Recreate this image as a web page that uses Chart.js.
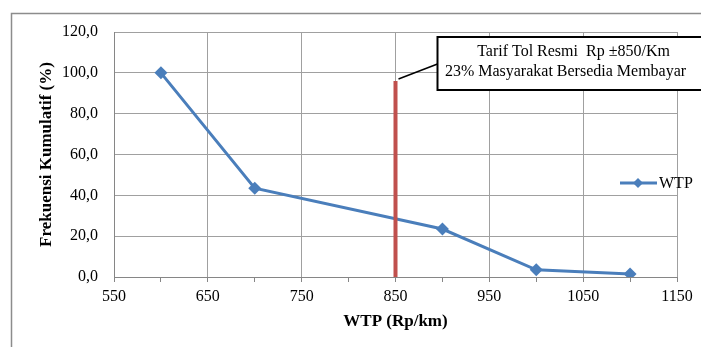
<!DOCTYPE html>
<html>
<head>
<meta charset="utf-8">
<script src="https://cdn.jsdelivr.net/npm/chart.js@4/dist/chart.umd.min.js"></script>
<style>
  html, body { margin: 0; padding: 0; background: #fff; }
  canvas { display: block; }
</style>
</head>
<body>
<canvas id="wtpChart" width="701" height="347"></canvas>
<script>
// WTP values (Rp/km) and cumulative frequency (%)
const wtpValues = [600, 700, 900, 1000, 1100];
const cumulativeFreq = [100, 43.5, 23.5, 3.5, 1.5];

// official toll tariff marker
const tariffX = [850, 850];
const tariffY = [0, 96];

const xTickMin = 550, xTickMax = 1150, xStep = 50;
const yTickMin = 0, yTickMax = 120, yStep = 20;

const noteLines = ['Tarif Tol Resmi  Rp \u00B1850/Km', '23% Masyarakat Bersedia Membayar'];

const FONT = 'Liberation Serif';
const BLUE = '#4A7EBB';
const RED = '#C0504D';
const GRID = '#A0A0A0';
const AXIS = '#868686';

const framePlugin = {
    id: 'frame',
    beforeDraw(chart) {
        const ctx = chart.ctx;
        ctx.save();
        ctx.strokeStyle = '#8C8C8C';
        ctx.lineWidth = 1.5;
        ctx.strokeRect(11.5, 13.5, 760, 400);
        ctx.restore();
    }
};

const notePlugin = {
    id: 'note',
    afterDatasetsDraw(chart) {
        const ctx = chart.ctx;
        const xs = chart.scales.x, ys = chart.scales.y;
        const px = xs.getPixelForValue(tariffX[1]);
        const py = ys.getPixelForValue(tariffY[1]);
        const bx = px + 42, by = py - 44, bw = 300, bh = 53;
        ctx.save();
        // connector
        ctx.strokeStyle = '#000';
        ctx.lineWidth = 1.5;
        ctx.beginPath();
        ctx.moveTo(px + 3, py - 2);
        ctx.lineTo(bx, py - 17);
        ctx.stroke();
        // box
        ctx.fillStyle = '#fff';
        ctx.fillRect(bx, by, bw, bh);
        ctx.lineWidth = 2;
        ctx.strokeRect(bx, by, bw, bh);
        // text
        ctx.fillStyle = '#000';
        ctx.font = '16px "' + FONT + '"';
        ctx.textAlign = 'center';
        ctx.textBaseline = 'middle';
        ctx.fillText(noteLines[0], bx + 136, by + 15);
        ctx.fillText(noteLines[1], bx + 128, by + 35);
        ctx.restore();

        // legend
        const lx = chart.chartArea.right - 57;
        const ly = ys.getPixelForValue(yTickMin) - 94;
        ctx.save();
        ctx.strokeStyle = BLUE;
        ctx.lineWidth = 3;
        ctx.beginPath();
        ctx.moveTo(lx, ly);
        ctx.lineTo(lx + 37, ly);
        ctx.stroke();
        ctx.fillStyle = BLUE;
        ctx.beginPath();
        ctx.moveTo(lx + 18, ly - 5);
        ctx.lineTo(lx + 23, ly);
        ctx.lineTo(lx + 18, ly + 5);
        ctx.lineTo(lx + 13, ly);
        ctx.closePath();
        ctx.fill();
        ctx.fillStyle = '#000';
        ctx.font = '16px "' + FONT + '"';
        ctx.textAlign = 'left';
        ctx.textBaseline = 'middle';
        ctx.fillText('WTP', lx + 39, ly + 1);
        ctx.restore();
    }
};

new Chart(document.getElementById('wtpChart'), {
    type: 'line',
    data: {
        datasets: [
            {
                label: 'Tarif',
                data: tariffX.map((x, i) => ({ x, y: tariffY[i] })),
                borderColor: RED,
                borderWidth: 4,
                pointRadius: 0,
                borderCapStyle: 'butt'
            },
            {
                label: 'WTP',
                data: wtpValues.map((x, i) => ({ x, y: cumulativeFreq[i] })),
                borderColor: BLUE,
                backgroundColor: BLUE,
                borderWidth: 3,
                pointStyle: 'rectRot',
                pointRadius: 6.5,
                pointBorderWidth: 0,
                tension: 0
            }
        ]
    },
    options: {
        responsive: false,
        animation: false,
        layout: { padding: { left: 0, top: 32, right: 24, bottom: 0 } },
        plugins: {
            legend: { display: false },
            tooltip: { enabled: false }
        },
        scales: {
            x: {
                type: 'linear',
                min: xTickMin,
                max: xTickMax,
                afterFit(scale) { scale.height = 70; },
                ticks: {
                    stepSize: xStep,
                    autoSkip: false,
                    maxRotation: 0,
                    padding: 5,
                    color: '#000',
                    font: { family: FONT, size: 16 },
                    callback: v => ((v - xTickMin) % 100 === 0 ? String(v) : '')
                },
                grid: {
                    color: c => (c.tick && (c.tick.value - xTickMin) % 100 === 0 ? GRID : 'rgba(0,0,0,0)'),
                    tickColor: AXIS,
                    tickLength: 5,
                    lineWidth: 1
                },
                border: { display: true, color: AXIS, width: 1 },
                title: {
                    display: true,
                    text: 'WTP (Rp/km)',
                    color: '#000',
                    font: { family: FONT, size: 17, weight: 'bold' },
                    padding: { top: 0, bottom: 15 }
                }
            },
            y: {
                min: yTickMin,
                max: yTickMax,
                afterFit(scale) { scale.width = 114; },
                ticks: {
                    stepSize: yStep,
                    padding: 16,
                    color: '#000',
                    font: { family: FONT, size: 16 },
                    callback: v => v.toFixed(1).replace('.', ',')
                },
                grid: { color: GRID, drawTicks: false, lineWidth: 1 },
                border: { display: true, color: AXIS, width: 1 },
                title: {
                    display: true,
                    text: 'Frekuensi Kumulatif (%)',
                    color: '#000',
                    font: { family: FONT, size: 17, weight: 'bold' },
                    padding: { top: 36, bottom: 0 }
                }
            }
        }
    },
    plugins: [framePlugin, notePlugin]
});
</script>
</body>
</html>
